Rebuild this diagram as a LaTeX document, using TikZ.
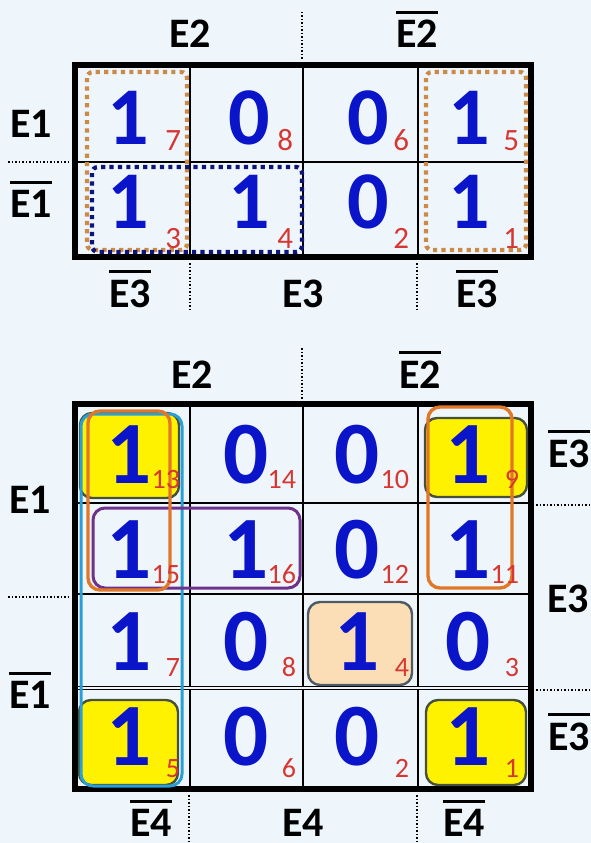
\documentclass[tikz,border=0pt]{standalone}
\usepackage{fontspec}
\setmainfont{Carlito}
\definecolor{bgblue}{RGB}{238,246,251}
\definecolor{digitblue}{RGB}{10,20,200}
\definecolor{subred}{RGB}{215,55,50}
\definecolor{dotorange}{RGB}{205,138,70}
\definecolor{dotnavy}{RGB}{15,20,120}
\definecolor{grporange}{RGB}{225,120,40}
\definecolor{grpcyan}{RGB}{40,160,215}
\definecolor{grppurple}{RGB}{110,50,140}
\definecolor{boxedge}{RGB}{70,80,60}
\definecolor{peach}{RGB}{252,222,182}
\definecolor{peachedge}{RGB}{80,90,100}
\newcommand{\nbar}[1]{\vbox{\hrule height 3pt\kern 6pt\hbox{#1}}}
\begin{document}
\begin{tikzpicture}[
  x=1pt, y=-1pt,
  every node/.style={inner sep=0pt, outer sep=0pt},
  lbl/.style={font=\fontsize{42}{44}\selectfont\bfseries, anchor=base},
  rlbl/.style={lbl, anchor=base west},
  topdigit/.style={font=\fontsize{82}{84}\selectfont\bfseries, text=digitblue, anchor=base},
  botdigit/.style={topdigit, font=\fontsize{89}{92}\selectfont\bfseries},
  topsub/.style={font=\fontsize{31}{33}\selectfont, text=subred, anchor=base east},
  botsub/.style={topsub, font=\fontsize{28}{30}\selectfont},
  sepline/.style={dotted, line width=1.5pt},
  gridline/.style={line width=2pt},
  outline/.style={line width=6pt},
  dotbox/.style={line width=4.2pt, dash pattern=on 4.2pt off 4.2pt, rounded corners=6pt},
  hilite/.style={draw=boxedge, line width=2.4pt, fill=yellow, rounded corners=12pt},
  grpline/.style={line width=3.4pt, rounded corners=12pt}
]
\useasboundingbox (0,0) rectangle (591,843);
\fill[bgblue] (0,0) rectangle (591,843);

\node[lbl] (tE2) at (190,48) {E2};
\node[lbl] (tE2n) at (417,48) {\nbar{E2}};
\node[lbl] (tE1) at (31,137) {E1};
\node[lbl] (tE1n) at (31,217) {\nbar{E1}};
\node[lbl] (tE3na) at (130,307) {\nbar{E3}};
\node[lbl] (tE3) at (303,307) {E3};
\node[lbl] (tE3nb) at (477,307) {\nbar{E3}};
\draw[sepline] (302,12) -- (302,60);
\draw[sepline] (8,162) -- (70,162);
\draw[sepline] (190,263) -- (190,312);
\draw[sepline] (417,263) -- (417,312);

\foreach \cx in {190,303,418}
  \draw[gridline] (\cx,65) -- (\cx,257);
\draw[gridline] (75,162) -- (531,162);
\draw[outline] (75,65) rectangle (531,257);

\draw[dotbox, draw=dotorange] (87,72) rectangle (187,250);
\draw[dotbox, draw=dotorange] (426,72) rectangle (526,250);
\draw[dotbox, draw=dotnavy] (92,167) rectangle (302,252);

\foreach \by/\sy/\vals [count=\r] in {144/150/{1/7,0/8,0/6,1/5}, 228/248/{1/3,1/4,0/2,1/1}} {
  \foreach \v/\s [count=\c] in \vals {
    \pgfmathsetmacro{\dx}{{128,249,368,469}[\c-1]}
    \pgfmathsetmacro{\sx}{{181,293,409,519}[\c-1]}
    \node[topdigit] (t-\r-\c) at (\dx,\by) {\v};
    \node[topsub] (ts-\r-\c) at (\sx,\sy) {\s};
  }
}

\node[lbl] (bE2) at (192,388) {E2};
\node[lbl] (bE2n) at (420,388) {\nbar{E2}};
\node[lbl] (bE1) at (30,513) {E1};
\node[lbl] (bE1n) at (30,708) {\nbar{E1}};
\node[rlbl] (bE3na) at (548,467) {\nbar{E3}};
\node[rlbl] (bE3) at (547,612) {E3};
\node[rlbl] (bE3nb) at (548,750) {\nbar{E3}};
\node[lbl] (bE4na) at (151,836) {\nbar{E4}};
\node[lbl] (bE4) at (303,836) {E4};
\node[lbl] (bE4nb) at (464,836) {\nbar{E4}};
\draw[sepline] (302,348) -- (302,402);
\draw[sepline] (8,597) -- (70,597);
\draw[sepline] (536,505) -- (591,505);
\draw[sepline] (536,690) -- (591,690);
\draw[sepline] (189,795) -- (189,843);
\draw[sepline] (417,795) -- (417,843);

\foreach \cx in {190,303,418}
  \draw[gridline] (\cx,404) -- (\cx,789);
\foreach \ry in {503,594}
  \draw[gridline] (75,\ry) -- (531,\ry);
\draw[line width=1.3pt, double=bgblue, double distance=1.6pt] (75,688) -- (531,688);
\draw[outline] (75,404) rectangle (531,789);

\filldraw[hilite] (80,413) rectangle (179,498);
\filldraw[hilite] (425,418) rectangle (527,497);
\filldraw[hilite] (79,700) rectangle (178,785);
\filldraw[hilite] (426,700) rectangle (526,785);
\filldraw[hilite, fill=peach, draw=peachedge] (308,602) rectangle (412,685);
\draw[grpline, draw=grpcyan, line width=3pt] (81,414) rectangle (182,786);
\draw[grpline, draw=grppurple, line width=3pt] (93,508) rectangle (300,588);
\draw[grpline, draw=grporange] (88,411) rectangle (170,590);
\draw[grpline, draw=grporange] (428,407) rectangle (512,588);

\foreach \by/\sy/\vals [count=\r] in {483/488/{1/13,0/14,0/10,1/9}, 578/583/{1/15,1/16,0/12,1/11},
    670/676/{1/7,0/8,1/4,0/3}, 765/777/{1/5,0/6,0/2,1/1}} {
  \foreach \v/\s [count=\c] in \vals {
    \pgfmathsetmacro{\dx}{{129,246,357,468}[\c-1]}
    \pgfmathsetmacro{\sx}{{180,296,409,519}[\c-1]}
    \node[botdigit] (b-\r-\c) at (\dx,\by) {\v};
    \node[botsub] (bs-\r-\c) at (\sx,\sy) {\s};
  }
}
\end{tikzpicture}
\end{document}
